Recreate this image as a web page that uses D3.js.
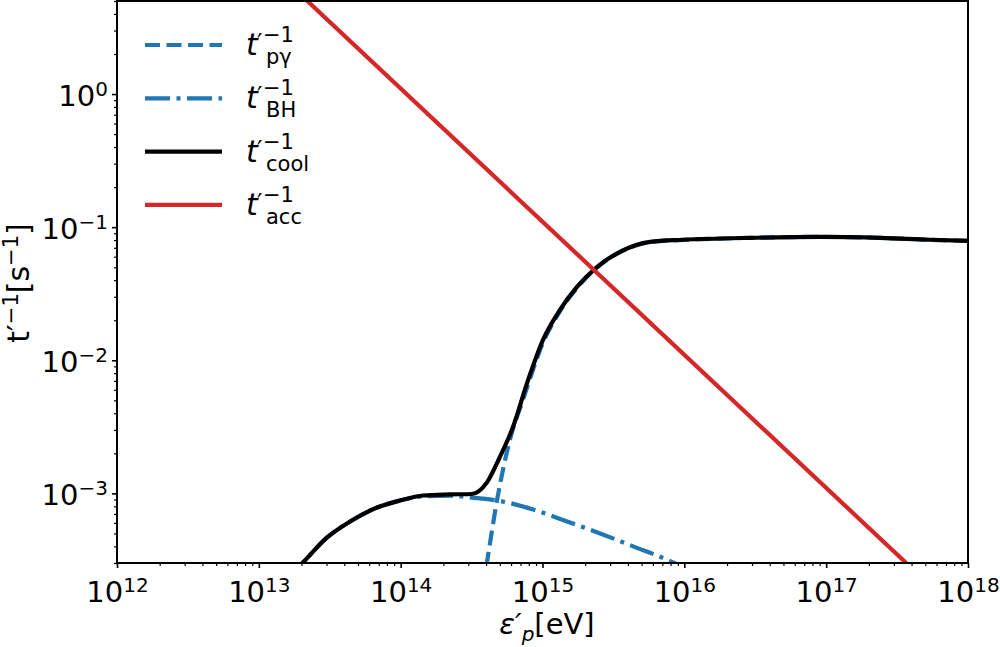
<!DOCTYPE html>
<html>
<head>
<meta charset="utf-8">
<script src="https://cdn.jsdelivr.net/npm/d3@7"></script>
<style>
  body { margin: 0; background: #fff; }
  text { font-family: "DejaVu Sans", sans-serif; }
</style>
</head>
<body>
<svg id="chart" width="1000" height="647"></svg>
<script>
// proton energy [eV] and inverse timescales [1/s]
const coolE    = [1.58e13, 2.05e13, 3.03e13, 4.40e13, 6.82e13, 9.91e13, 1.44e14, 2.23e14, 3.18e14, 4.06e14, 5.02e14, 6.21e14, 7.80e14, 1.01e15, 1.33e15, 1.75e15, 2.43e15, 3.52e15, 5.74e15, 9.82e15, 2.91e16, 9.08e16, 2.40e17, 5.41e17, 1e18];
const coolRate = [2.3e-4, 3.03e-4, 4.67e-4, 6.15e-4, 7.83e-4, 8.85e-4, 9.64e-4, 9.82e-4, 9.9e-4, 1.21e-3, 1.89e-3, 3.18e-3, 6.79e-3, 1.43e-2, 2.40e-2, 3.56e-2, 5.04e-2, 6.53e-2, 7.76e-2, 8.04e-2, 8.32e-2, 8.45e-2, 8.32e-2, 8.04e-2, 7.89e-2];

const pgE    = [3.80e14, 4.06e14, 4.79e14, 5.90e14, 7.29e14, 1.01e15, 1.33e15, 1.75e15, 2.43e15, 3.52e15, 5.74e15, 9.82e15, 2.91e16, 9.08e16, 2.40e17, 5.41e17, 1e18];
const pgRate = [1.95e-4, 3.03e-4, 9.0e-4, 2.54e-3, 5.06e-3, 1.36e-2, 2.34e-2, 3.50e-2, 4.99e-2, 6.50e-2, 7.72e-2, 8.02e-2, 8.31e-2, 8.45e-2, 8.32e-2, 8.04e-2, 7.89e-2];

const bhE    = [1.58e13, 2.05e13, 3.03e13, 4.40e13, 6.82e13, 9.91e13, 1.44e14, 2.23e14, 3.16e14, 4.79e14, 8.59e14, 1.49e15, 2.55e15, 4.36e15, 8.34e15, 1e16];
const bhRate = [2.3e-4, 3.03e-4, 4.67e-4, 6.15e-4, 7.83e-4, 8.85e-4, 9.5e-4, 9.6e-4, 9.3e-4, 8.85e-4, 7.57e-4, 6.15e-4, 5.0e-4, 4.0e-4, 3.03e-4, 2.75e-4];

const accE    = [1e13, 1e18];
const accRate = [11.0, 1.1e-4];

const xTickExps = [12, 13, 14, 15, 16, 17, 18];
const yTickExps = [-3, -2, -1, 0];
const legendSubs = ["pγ", "BH", "cool", "acc"];

const blue = "#1f77b4", red = "#d62728";
const lw = 4.2;

const mLeft = 117, mRight = 968, mTop = 1, mBottom = 563;
const svg = d3.select("#chart");

const x = d3.scaleLog().domain([1e12, 1e18]).range([mLeft, mRight]);
const y = d3.scaleLog().domain([3e-4, 5]).range([mBottom, mTop]);

// minor ticks
let xMinor = [], yMinor = [];
for (let e = 12; e < 18; e++) for (let m = 2; m <= 9; m++) xMinor.push(m * Math.pow(10, e));
for (let e = -4; e <= 0; e++) for (let m = 2; m <= 9; m++) {
    let v = m * Math.pow(10, e);
    if (v >= 3e-4 && v <= 5) yMinor.push(v);
}

function powLabel(sel) {
    sel.each(function (d) {
        let t = d3.select(this);
        let exp = Math.round(Math.log10(d));
        t.text(null);
        t.append("tspan").text("10");
        t.append("tspan").attr("dy", -10).attr("font-size", 20)
            .text(exp < 0 ? "\u2212" + (-exp) : "" + exp);
    });
}

// x axis
svg.append("g").attr("transform", "translate(0," + mBottom + ")")
    .call(d3.axisBottom(x).tickValues(xMinor).tickSize(3).tickFormat(""))
    .call(g => g.select(".domain").remove())
    .call(g => g.selectAll("line").attr("stroke-width", 1.2));
let xa = svg.append("g").attr("transform", "translate(0," + mBottom + ")")
    .call(d3.axisBottom(x).tickValues(xTickExps.map(e => Math.pow(10, e))).tickSize(5))
    .call(g => g.select(".domain").remove());
xa.selectAll("line").attr("stroke-width", 1.6);
xa.selectAll("text").attr("font-size", 29).attr("font-family", "DejaVu Sans")
    .attr("y", 39).attr("dy", null).call(powLabel);

// y axis
svg.append("g").attr("transform", "translate(" + mLeft + ",0)")
    .call(d3.axisLeft(y).tickValues(yMinor).tickSize(3).tickFormat(""))
    .call(g => g.select(".domain").remove())
    .call(g => g.selectAll("line").attr("stroke-width", 1.2));
let ya = svg.append("g").attr("transform", "translate(" + mLeft + ",0)")
    .call(d3.axisLeft(y).tickValues(yTickExps.map(e => Math.pow(10, e))).tickSize(5))
    .call(g => g.select(".domain").remove());
ya.selectAll("line").attr("stroke-width", 1.6);
ya.selectAll("text").attr("font-size", 29).attr("font-family", "DejaVu Sans")
    .attr("x", -9).attr("dy", 11).call(powLabel);

// curves
svg.append("clipPath").attr("id", "clip").append("rect")
    .attr("x", mLeft).attr("y", mTop).attr("width", mRight - mLeft).attr("height", mBottom - mTop);
let plot = svg.append("g").attr("clip-path", "url(#clip)");

function addLine(xs, ys, color, dash, curve) {
    let line = d3.line().x(d => x(d[0])).y(d => y(d[1])).curve(curve || d3.curveMonotoneX);
    plot.append("path").datum(d3.zip(xs, ys))
        .attr("d", line).attr("fill", "none")
        .attr("stroke", color).attr("stroke-width", lw)
        .attr("stroke-dasharray", dash);
}
addLine(pgE, pgRate, blue, "15,6.5");
addLine(bhE, bhRate, blue, "25,6.5,4,6.5");
addLine(coolE, coolRate, "black", null);
addLine(accE, accRate, red, null, d3.curveLinear);

// frame
svg.append("rect").attr("x", mLeft).attr("y", mTop)
    .attr("width", mRight - mLeft).attr("height", mBottom - mTop)
    .attr("fill", "none").attr("stroke", "black").attr("stroke-width", 2);

// legend
const legendStyles = [[blue, "15,6.5"], [blue, "25,6.5,4,6.5"], ["black", null], [red, null]];
legendSubs.forEach((s, i) => {
    let ly = 45 + i * 53.3;
    svg.append("line").attr("x1", 145).attr("x2", 222).attr("y1", ly).attr("y2", ly)
        .attr("stroke", legendStyles[i][0]).attr("stroke-width", lw)
        .attr("stroke-dasharray", legendStyles[i][1]);
    let base = ly + 10;
    svg.append("text").attr("x", 246).attr("y", base).attr("font-size", 30)
        .attr("font-style", "italic").text("t");
    svg.append("text").attr("x", 257).attr("y", base - 4).attr("font-size", 24).text("\u2032");
    svg.append("text").attr("x", 263).attr("y", base - 13).attr("font-size", 21).text("\u22121");
    svg.append("text").attr("x", 266).attr("y", base + 9).attr("font-size", 21).text(s);
});

// axis labels
let yl = svg.append("text").attr("transform", "translate(29,283) rotate(-90)")
    .attr("text-anchor", "middle").attr("font-size", 30);
yl.append("tspan").text("t\u2032");
yl.append("tspan").attr("dy", -11).attr("font-size", 21).text("\u22121");
yl.append("tspan").attr("dy", 11).text("[s");
yl.append("tspan").attr("dy", -11).attr("font-size", 21).text("\u22121");
yl.append("tspan").attr("dy", 11).text("]");

let xl = svg.append("text").attr("x", 547).attr("y", 634)
    .attr("text-anchor", "middle").attr("font-size", 29);
xl.append("tspan").attr("font-style", "italic").text("\u03b5\u2032");
xl.append("tspan").attr("dy", 7).attr("font-size", 20).attr("font-style", "italic").text("p");
xl.append("tspan").attr("dy", -7).text("[eV]");
</script>
</body>
</html>
